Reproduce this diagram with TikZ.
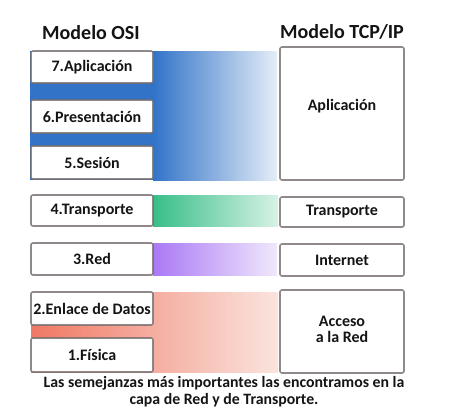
\documentclass[tikz,border=0pt]{standalone}
\usepackage{fontspec}
\setmainfont{Carlito}
\definecolor{boxgray}{RGB}{115,108,108}
\definecolor{txt}{RGB}{20,20,20}
\definecolor{blA}{RGB}{50,115,200}
\definecolor{blC}{RGB}{228,237,247}
\definecolor{grA}{RGB}{55,190,135}
\definecolor{grC}{RGB}{215,242,230}
\definecolor{puA}{RGB}{170,120,245}
\definecolor{puC}{RGB}{240,232,252}
\definecolor{rdA}{RGB}{240,120,100}
\definecolor{rdB}{RGB}{246,168,152}
\definecolor{rdC}{RGB}{250,228,222}
\tikzset{
  layer/.style={draw=boxgray, draw opacity=0.8, fill=white, line width=1.6pt, rounded corners=2pt,
    inner sep=0pt, text=txt, font=\bfseries\fontsize{16}{17}\selectfont},
  osil/.style={layer, minimum width=122pt},
  tcpl/.style={layer, minimum width=124pt, align=center},
  titletext/.style={text=txt, font=\bfseries\fontsize{20}{22}\selectfont},
  lbl/.style={text=txt, font=\bfseries\fontsize{16}{16}\selectfont, align=center},
  captext/.style={text=txt, font=\bfseries\fontsize{15.8}{16.8}\selectfont, align=center}
}
\begin{document}
\begin{tikzpicture}[x=1pt,y=-1pt]
\useasboundingbox (0,0) rectangle (450,410);
\fill[white] (0,0) rectangle (450,410);
% colour bands
\fill[blA] (30,51) rectangle (154,180);
\shade[left color=blA, right color=blC] (153,51) rectangle (277,180);
\fill[grA] (31,195) rectangle (154,226);
\shade[left color=grA, right color=grC] (153,195) rectangle (278,226);
\fill[puA] (31,243) rectangle (154,275);
\shade[left color=puA, right color=puC] (153,243) rectangle (277,275);
\shade[left color=rdA, middle color=rdB, right color=rdC] (31,292) rectangle (278,372);
% titles
\node[titletext] (tosi) at (91,33) {Modelo OSI};
\node[titletext] (ttcp) at (342,32) {Modelo TCP/IP};
% OSI layers
\node[osil, minimum height=32pt] (l7) at (92,67) {7.Aplicación};
\node[osil, minimum height=33pt] (l6) at (92,116.5) {6.Presentación};
\node[osil, minimum height=33pt] (l5) at (92,162.5) {5.Sesión};
\node[osil, minimum height=31pt] (l4) at (92,210.5) {4.Transporte};
\node[osil, minimum height=32pt] (l3) at (92,259) {3.Red};
\node[osil, minimum height=33pt] (l2) at (92,308.5) {2.Enlace de Datos};
\node[osil, minimum height=34pt] (l1) at (92,355) {1.Física};
% TCP/IP layers
\node[tcpl, minimum height=133pt] (ra) at (342,113.5) {};
\node[lbl] (rat) at (342,106) {Aplicación};
\node[tcpl, minimum height=30pt] (rt) at (342,212) {Transporte};
\node[tcpl, minimum height=32pt] (ri) at (342,260) {Internet};
\node[tcpl, minimum height=83pt] (rn) at (342,331.5) {};
\node[lbl] (rnt) at (342,329) {Acceso\\a la Red};
% caption
\node[captext] (c) at (224,392) {Las semejanzas más importantes las encontramos en la\\capa de Red y de Transporte.};
\end{tikzpicture}
\end{document}
